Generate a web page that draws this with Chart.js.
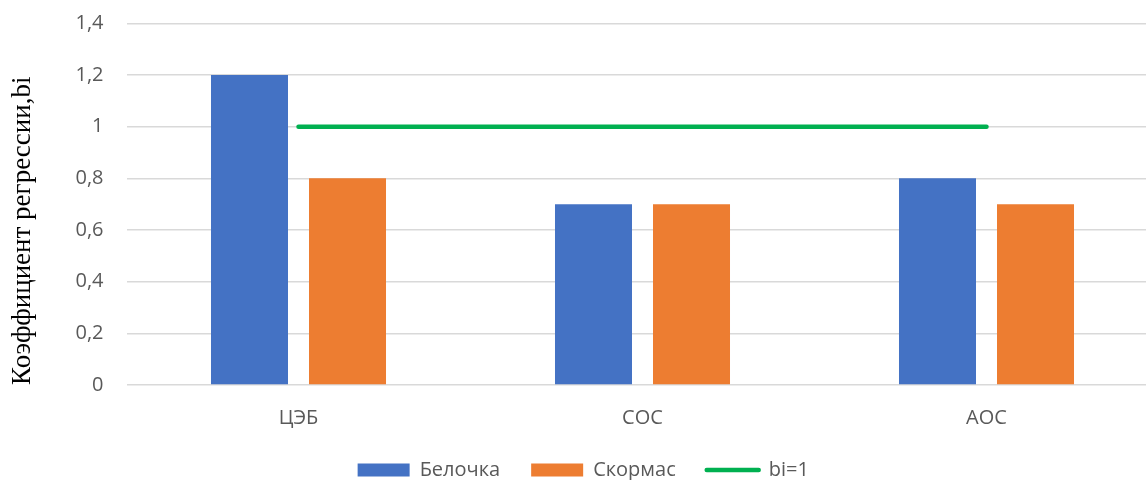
<!DOCTYPE html>
<html lang="ru">
<head>
<meta charset="utf-8">
<title>Коэффициент регрессии</title>
<script src="https://cdn.jsdelivr.net/npm/chart.js@4.4.1/dist/chart.umd.min.js"></script>
<style>
  html, body { margin: 0; padding: 0; background: #ffffff; overflow: hidden; }
  #wrap { width: 1167px; height: 480px; }
</style>
</head>
<body>
<div id="wrap"><canvas id="chart" width="1167" height="480"></canvas></div>
<script>
// Categories and series
const categories = ['ЦЭБ', 'СОС', 'АОС'];
const belochka = [1.2, 0.7, 0.8];
const skormas = [0.8, 0.7, 0.7];
const reference = [1, 1, 1];
const seriesNames = ['Белочка', 'Скормас', 'bi=1'];
const yTitle = 'Коэффициент регрессии,bi';
const yMin = 0, yMax = 1.4, yStep = 0.2;

const BLUE = '#4472C4', ORANGE = '#ED7D31', GREEN = '#00B050';
const TEXT = '#595959', GRID = '#D9D9D9';
const SANS = '"Open Sans", "Noto Sans", sans-serif';

const fmt = v => String(parseFloat(Number(v).toFixed(1))).replace('.', ',');

// The legend row sits closer to the axis labels than the legend's own padding allows
const LEGEND_LIFT = 3;
const legendLift = {
  id: 'legendLift',
  afterLayout(chart) {
    const lg = chart.legend;
    if (lg) { lg.top -= LEGEND_LIFT; lg.bottom -= LEGEND_LIFT; }
  }
};

new Chart(document.getElementById('chart'), {
  type: 'bar',
  data: {
    labels: categories,
    datasets: [
      { label: seriesNames[0], data: belochka, backgroundColor: BLUE, borderWidth: 0,
        categoryPercentage: 0.5698, barPercentage: 0.7857 },
      { label: seriesNames[1], data: skormas, backgroundColor: ORANGE, borderWidth: 0,
        categoryPercentage: 0.5698, barPercentage: 0.7857 },
      { type: 'line', label: seriesNames[2], data: reference, borderColor: GREEN,
        backgroundColor: GREEN, borderWidth: 4.5, borderCapStyle: 'round',
        pointRadius: 0, fill: false }
    ]
  },
  options: {
    responsive: false,
    animation: false,
    events: [],
    layout: { padding: { left: 8, right: 8.5, top: 23.3, bottom: -13 } },
    scales: {
      x: {
        offset: true,
        grid: { display: false },
        border: { display: false },
        ticks: { color: TEXT, font: { family: SANS, size: 20 }, padding: 13,
                 maxRotation: 0, autoSkip: false },
        afterFit: s => { s.height = 47; }
      },
      y: {
        min: yMin, max: yMax,
        grid: { color: GRID, lineWidth: 1.5, drawTicks: false },
        border: { display: false },
        ticks: { stepSize: yStep, color: TEXT, font: { family: SANS, size: 20 },
                 padding: 23, callback: v => fmt(v) },
        title: { display: true, text: yTitle, color: '#000000', align: 'start',
                 font: { family: '"Liberation Serif", "Times New Roman", serif', size: 27 },
                 padding: { top: -1.5, bottom: 0 } },
        afterFit: s => { s.width = 118.5; s.paddingTop = 0; s.paddingBottom = 0; }
      }
    },
    plugins: {
      tooltip: { enabled: false },
      legend: {
        position: 'bottom',
        labels: {
          color: TEXT,
          font: { family: SANS, size: 20 },
          usePointStyle: true,
          pointStyleWidth: 52,
          boxHeight: 13,
          padding: 31,
          generateLabels(chart) {
            const items = Chart.defaults.plugins.legend.labels.generateLabels(chart);
            items.forEach(it => {
              const ds = chart.data.datasets[it.datasetIndex];
              if (ds.type === 'line') {
                it.pointStyle = 'line';
                it.lineWidth = 4.5;
                it.strokeStyle = GREEN;
                it.lineCap = 'round';
              } else {
                it.pointStyle = 'rect';
                it.lineWidth = 0;
              }
            });
            return items;
          }
        }
      }
    }
  },
  plugins: [legendLift]
});
</script>
</body>
</html>
